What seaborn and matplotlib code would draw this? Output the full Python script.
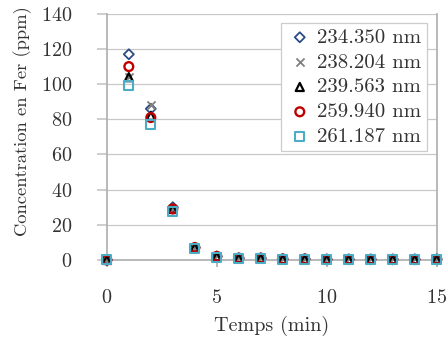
import numpy as np
import pandas as pd
import seaborn as sns
import matplotlib.pyplot as plt

temps = list(range(16))
s234 = [0, 117, 86, 30, 7, 2, 1, 1, 0.5, 0.5, 0.3, 0.3, 0.3, 0.3, 0.3, 0.3]
s238 = [0, 104, 88, 29, 7, 2, 1, 1, 0.5, 0.5, 0.3, 0.3, 0.3, 0.3, 0.3, 0.3]
s239 = [0, 104, 82, 29, 7, 2, 1, 1, 0.5, 0.5, 0.3, 0.3, 0.3, 0.3, 0.3, 0.3]
s259 = [0, 110, 81, 29, 7, 2, 1, 1, 0.5, 0.5, 0.3, 0.3, 0.3, 0.3, 0.3, 0.3]
s261 = [0, 99.5, 77, 27.5, 6.5, 1.5, 0.8, 0.8, 0.4, 0.4, 0.2, 0.2, 0.2, 0.2, 0.2, 0.2]

labels = ["234.350 nm", "238.204 nm", "239.563 nm", "259.940 nm", "261.187 nm"]
series = [s234, s238, s239, s259, s261]

df = pd.DataFrame({
    "Temps": temps * 5,
    "Conc": sum(series, []),
    "Raie": sum([[l] * 16 for l in labels], []),
})

sns.set_theme(style="white")
plt.rcParams["font.family"] = ["cmr10", "DejaVu Serif"]
plt.rcParams["axes.formatter.use_mathtext"] = True

fig = plt.figure(figsize=(4.47, 3.38), dpi=100)
ax = fig.add_axes([0.239, 0.231, 0.738, 0.728])

styles = {
    "234.350 nm": dict(marker="D", s=26, facecolors="none", edgecolors="#2b4c86", linewidths=1.3),
    "238.204 nm": dict(marker="x", s=34, color="#808080", linewidths=1.3),
    "239.563 nm": dict(marker="^", s=34, facecolors="none", edgecolors="black", linewidths=1.6),
    "259.940 nm": dict(marker="o", s=40, facecolors="none", edgecolors="#c00000", linewidths=1.7),
    "261.187 nm": dict(marker="s", s=42, facecolors="none", edgecolors="#4aacc5", linewidths=1.5),
}
for lab in labels:
    sub = df[df["Raie"] == lab]
    sns.scatterplot(data=sub, x="Temps", y="Conc", ax=ax, label=lab, clip_on=False,
                    zorder=3, **styles[lab])

ax.set_xlim(0, 15)
ax.set_ylim(0, 140)
ax.set_xticks([0, 5, 10, 15])
ax.set_yticks(range(0, 141, 20))
ax.grid(axis="y", color="#c8c8c8", linewidth=0.9)
ax.spines["top"].set_visible(False)
for side in ["left", "right", "bottom"]:
    ax.spines[side].set_color("#b0b0b0")
ax.tick_params(axis="x", bottom=True, length=5, color="#b0b0b0", labelsize=14.5, pad=16)
ax.tick_params(axis="y", left=True, length=7, color="#c8c8c8", labelsize=14.5, pad=18)
ax.set_xlabel("Temps (min)", fontsize=14.5, color="#333333", labelpad=6)
ax.set_ylabel("Concentration en Fer (ppm)", fontsize=13.4, color="#333333")
ax.yaxis.set_label_coords(-0.228, 0.565)
for t in ax.get_xticklabels() + ax.get_yticklabels():
    t.set_color("#333333")

leg = ax.legend(loc="upper right", bbox_to_anchor=(0.97, 0.963), fontsize=15,
                frameon=True, fancybox=False, edgecolor="#cccccc", framealpha=1,
                handletextpad=0.2, labelspacing=0.3, borderpad=0.25, handlelength=1.3,
                borderaxespad=0)
leg.get_frame().set_linewidth(0.9)
for t in leg.get_texts():
    t.set_color("#333333")

fig.savefig("out.png", dpi=100)
